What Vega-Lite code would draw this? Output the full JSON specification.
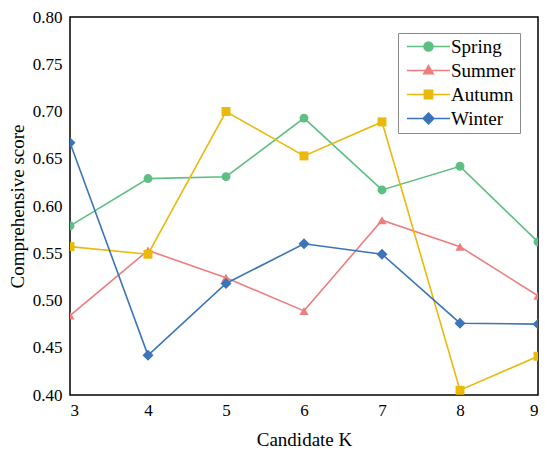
{
  "$schema": "https://vega.github.io/schema/vega-lite/v6.json",
  "width": 468,
  "height": 378,
  "autosize": {"type": "none"},
  "padding": {"left": 70, "top": 17, "right": 12, "bottom": 61},
  "background": "white",
  "config": {
    "font": "Liberation Serif",
    "view": {"stroke": "black", "strokeWidth": 1.5},
    "axis": {
      "domain": false,
      "ticks": false,
      "grid": false,
      "labelColor": "black",
      "labelFont": "Liberation Serif",
      "labelFontSize": 17,
      "titleColor": "black",
      "titleFont": "Liberation Serif",
      "titleFontSize": 19,
      "titleFontWeight": "normal"
    }
  },
  "data": {
    "values": [
      {"k": 3, "series": "Spring", "score": 0.579},
      {"k": 4, "series": "Spring", "score": 0.629},
      {"k": 5, "series": "Spring", "score": 0.631},
      {"k": 6, "series": "Spring", "score": 0.693},
      {"k": 7, "series": "Spring", "score": 0.617},
      {"k": 8, "series": "Spring", "score": 0.642},
      {"k": 9, "series": "Spring", "score": 0.562},
      {"k": 3, "series": "Summer", "score": 0.484},
      {"k": 4, "series": "Summer", "score": 0.553},
      {"k": 5, "series": "Summer", "score": 0.524},
      {"k": 6, "series": "Summer", "score": 0.489},
      {"k": 7, "series": "Summer", "score": 0.585},
      {"k": 8, "series": "Summer", "score": 0.557},
      {"k": 9, "series": "Summer", "score": 0.505},
      {"k": 3, "series": "Autumn", "score": 0.557},
      {"k": 4, "series": "Autumn", "score": 0.549},
      {"k": 5, "series": "Autumn", "score": 0.700},
      {"k": 6, "series": "Autumn", "score": 0.653},
      {"k": 7, "series": "Autumn", "score": 0.689},
      {"k": 8, "series": "Autumn", "score": 0.405},
      {"k": 9, "series": "Autumn", "score": 0.441},
      {"k": 3, "series": "Winter", "score": 0.667},
      {"k": 4, "series": "Winter", "score": 0.442},
      {"k": 5, "series": "Winter", "score": 0.518},
      {"k": 6, "series": "Winter", "score": 0.560},
      {"k": 7, "series": "Winter", "score": 0.549},
      {"k": 8, "series": "Winter", "score": 0.476},
      {"k": 9, "series": "Winter", "score": 0.475}
    ]
  },
  "encoding": {
    "x": {"field": "k", "type": "quantitative", "scale": {"domain": [3, 9], "nice": false}},
    "y": {"field": "score", "type": "quantitative", "scale": {"domain": [0.4, 0.8], "nice": false, "zero": false}},
    "color": {
      "field": "series",
      "type": "nominal",
      "scale": {
        "domain": ["Spring", "Summer", "Autumn", "Winter"],
        "range": ["#5dbf82", "#ee7d7d", "#e9b90b", "#3b74b8"]
      }
    }
  },
  "layer": [
    {
      "mark": {"type": "point", "filled": true, "opacity": 0, "clip": true},
      "encoding": {
        "x": {"field": "k", "type": "quantitative", "axis": null},
        "y": {"field": "score", "type": "quantitative", "axis": null},
        "color": {
          "field": "series",
          "type": "nominal",
          "legend": {
            "orient": "none",
            "legendX": 328,
            "legendY": 16,
            "title": null,
            "strokeColor": "#8a8a8a",
            "fillColor": "white",
            "padding": 4,
            "symbolSize": 81,
            "symbolOffset": 17,
            "symbolStrokeWidth": 1.5,
            "symbolOpacity": 1,
            "labelFont": "Liberation Serif",
            "labelFontSize": 19,
            "labelColor": "black",
            "labelOffset": 13,
            "rowPadding": 4
          }
        },
        "shape": {
          "field": "series",
          "type": "nominal",
          "scale": {
            "domain": ["Spring", "Summer", "Autumn", "Winter"],
            "range": [
              "M-4.78,0H4.78M1,0A1,1,0,1,1,-1,0A1,1,0,1,1,1,0Z",
              "M-4.78,0H4.78M0,-1.1L1.05,0.72L-1.05,0.72Z",
              "M-4.78,0H4.78M-0.92,-0.92H0.92V0.92H-0.92Z",
              "M-4.78,0H4.78M0,-1.2L1.2,0L0,1.2L-1.2,0Z"
            ]
          },
          "legend": {
            "orient": "none",
            "legendX": 328,
            "legendY": 16,
            "title": null
          }
        }
      }
    },
    {
      "data": {"values": [{"k": 4}, {"k": 5}, {"k": 6}, {"k": 7}, {"k": 8}]},
      "mark": {"type": "tick", "orient": "vertical", "size": 14, "thickness": 1.5, "opacity": 1, "clip": true},
      "encoding": {
        "x": {"field": "k", "type": "quantitative", "axis": null},
        "y": {"datum": 0.4, "type": "quantitative", "axis": null},
        "color": {"value": "black"}
      }
    },
    {
      "data": {"values": [{"k": 4}, {"k": 5}, {"k": 6}, {"k": 7}, {"k": 8}]},
      "mark": {"type": "tick", "orient": "vertical", "size": 14, "thickness": 1.5, "opacity": 1, "clip": true},
      "encoding": {
        "x": {"field": "k", "type": "quantitative", "axis": null},
        "y": {"datum": 0.8, "type": "quantitative", "axis": null},
        "color": {"value": "black"}
      }
    },
    {
      "data": {"values": [{"score": 0.45}, {"score": 0.5}, {"score": 0.55}, {"score": 0.6}, {"score": 0.65}, {"score": 0.7}, {"score": 0.75}]},
      "mark": {"type": "tick", "orient": "horizontal", "size": 14, "thickness": 1.5, "opacity": 1, "clip": true},
      "encoding": {
        "x": {"datum": 3, "type": "quantitative", "axis": null},
        "y": {"field": "score", "type": "quantitative", "axis": null},
        "color": {"value": "black"}
      }
    },
    {
      "data": {"values": [{"score": 0.45}, {"score": 0.5}, {"score": 0.55}, {"score": 0.6}, {"score": 0.65}, {"score": 0.7}, {"score": 0.75}]},
      "mark": {"type": "tick", "orient": "horizontal", "size": 14, "thickness": 1.5, "opacity": 1, "clip": true},
      "encoding": {
        "x": {"datum": 9, "type": "quantitative", "axis": null},
        "y": {"field": "score", "type": "quantitative", "axis": null},
        "color": {"value": "black"}
      }
    },
    {
      "mark": {"type": "line", "strokeWidth": 1.6, "clip": true},
      "encoding": {
        "x": {
          "field": "k", "type": "quantitative",
          "axis": {"values": [3, 4, 5, 6, 7, 8, 9], "title": "Candidate K", "labelPadding": 7, "titlePadding": 12}
        },
        "y": {
          "field": "score", "type": "quantitative",
          "axis": {"values": [0.4, 0.45, 0.5, 0.55, 0.6, 0.65, 0.7, 0.75, 0.8], "format": ".2f", "title": "Comprehensive score", "labelPadding": 8, "titlePadding": 5}
        }
      }
    },
    {
      "transform": [{"filter": "datum.series == 'Spring'"}],
      "mark": {"type": "point", "shape": "circle", "filled": true, "opacity": 1, "size": 80, "clip": true},
      "encoding": {
        "x": {"field": "k", "type": "quantitative", "axis": null},
        "y": {"field": "score", "type": "quantitative", "axis": null}
      }
    },
    {
      "transform": [{"filter": "datum.series == 'Summer'"}],
      "mark": {"type": "point", "shape": "triangle-up", "filled": true, "opacity": 1, "size": 85, "clip": true},
      "encoding": {
        "x": {"field": "k", "type": "quantitative", "axis": null},
        "y": {"field": "score", "type": "quantitative", "axis": null}
      }
    },
    {
      "transform": [{"filter": "datum.series == 'Autumn'"}],
      "mark": {"type": "point", "shape": "square", "filled": true, "opacity": 1, "size": 80, "clip": true},
      "encoding": {
        "x": {"field": "k", "type": "quantitative", "axis": null},
        "y": {"field": "score", "type": "quantitative", "axis": null}
      }
    },
    {
      "transform": [{"filter": "datum.series == 'Winter'"}],
      "mark": {"type": "point", "shape": "diamond", "filled": true, "opacity": 1, "size": 120, "clip": true},
      "encoding": {
        "x": {"field": "k", "type": "quantitative", "axis": null},
        "y": {"field": "score", "type": "quantitative", "axis": null}
      }
    }
  ],
  "resolve": {"axis": {"x": "independent", "y": "independent"}}
}
